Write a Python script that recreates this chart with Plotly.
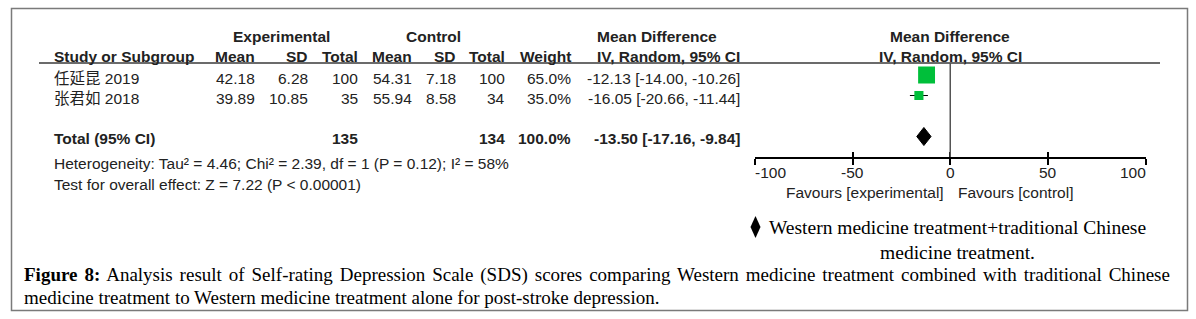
import plotly.graph_objects as go

# ---------------- data ----------------
studies = ["任延昆 2019", "张君如 2018"]
exp_mean = [42.18, 39.89]
exp_sd = [6.28, 10.85]
exp_n = [100, 35]
ctl_mean = [54.31, 55.94]
ctl_sd = [7.18, 8.58]
ctl_n = [100, 34]
weights = [65.0, 35.0]
md = [-12.13, -16.05]
ci_lo = [-14.00, -20.66]
ci_hi = [-10.26, -11.44]

total_exp_n = 135
total_ctl_n = 134
total_weight = 100.0
total_md = -13.50
total_lo = -17.16
total_hi = -9.84

tau2 = 4.46
chi2 = 2.39
df_het = 1
p_het = "0.12"
i2 = 58
z_val = 7.22
p_z = "< 0.00001"

tick_vals = [-100, -50, 0, 50, 100]
tick_labels = ["-100", "-50", "0", "50", "100"]

legend_text = "Western medicine treatment+traditional Chinese<br>medicine treatment."
caption_1 = ("<b>Figure 8:</b> Analysis result of Self-rating Depression Scale (SDS) scores "
             "comparing Western medicine treatment combined with traditional Chinese")
caption_2 = "medicine treatment to Western medicine treatment alone for post-stroke depression."

# ---------------- layout helpers ----------------
W, H = 1196, 319


def px(x):
    return x / W


def py(y):
    return 1 - y / H


ROW0_PX = 75.0      # pixel centre of first study row
ROW_STEP = 20.5     # pixels per row
study_rows = [0, 1]
total_row = 3
PLOT_TOP, PLOT_BOT = 63.0, 157.0
X_LEFT, X_RIGHT = 755.0, 1145.5

SANS = "Liberation Sans, Arial, Noto Sans CJK SC, sans-serif"
SERIF = "Liberation Serif, Times New Roman, serif"
TXT = "#222222"
FS = 15.5

annotations = []


def ann(text, x, y, xanchor="left", bold=False, size=FS, family=SANS, color=TXT,
        xref="paper", yref="paper", align="left", xshift=0):
    annotations.append(dict(
        text=f"<b>{text}</b>" if bold else text,
        x=x, y=y, xref=xref, yref=yref, xanchor=xanchor, yanchor="middle",
        showarrow=False, align=align, xshift=xshift, borderpad=0, borderwidth=0,
        font=dict(family=family, size=size, color=color)))


def row_px(r):
    return ROW0_PX + ROW_STEP * r


# header
ann("Experimental", px(281), py(36), "center", bold=True)
ann("Control", px(433), py(36), "center", bold=True)
ann("Mean Difference", px(657), py(36), "center", bold=True)
ann("Mean Difference", px(950), py(36), "center", bold=True)

col_x = [255, 308, 358, 412, 456, 505, 571, 740]
hdr = ["Mean", "SD", "Total", "Mean", "SD", "Total", "Weight", "IV, Random, 95% CI"]
ann("Study or Subgroup", px(54), py(56), "left", bold=True)
for h, cx in zip(hdr, col_x):
    ann(h, px(cx), py(56), "right", bold=True)
ann("IV, Random, 95% CI", px(950), py(56), "center", bold=True)

# study rows
for i, name in enumerate(studies):
    ty = py(row_px(study_rows[i]) + 3.5)
    ann(name, px(54), ty, "left")
    vals = [f"{exp_mean[i]:.2f}", f"{exp_sd[i]:.2f}", f"{exp_n[i]}",
            f"{ctl_mean[i]:.2f}", f"{ctl_sd[i]:.2f}", f"{ctl_n[i]}",
            f"{weights[i]:.1f}%",
            f"{md[i]:.2f} [{ci_lo[i]:.2f}, {ci_hi[i]:.2f}]"]
    for v, cx in zip(vals, col_x):
        ann(v, px(cx), ty, "right")

# total row
ty = py(row_px(total_row) + 2.5)
ann("Total (95% CI)", px(54), ty, "left", bold=True)
ann(f"{total_exp_n}", px(col_x[2]), ty, "right", bold=True)
ann(f"{total_ctl_n}", px(col_x[5]), ty, "right", bold=True)
ann(f"{total_weight:.1f}%", px(col_x[6]), ty, "right", bold=True)
ann(f"{total_md:.2f} [{total_lo:.2f}, {total_hi:.2f}]", px(col_x[7]), ty, "right", bold=True)

ann(f"Heterogeneity: Tau² = {tau2:.2f}; Chi² = {chi2:.2f}, df = {df_het} (P = {p_het}); I² = {i2}%",
    px(54), py(163), "left")
ann(f"Test for overall effect: Z = {z_val:.2f} (P {p_z})", px(54), py(184), "left")

# tick labels (edge labels aligned inward like RevMan)
for k, (tv, tl) in enumerate(zip(tick_vals, tick_labels)):
    xa = "left" if k == 0 else ("right" if k == len(tick_vals) - 1 else "center")
    ann(tl, tv, py(172), xa, xref="x")

ann("Favours [experimental]", 0, py(192), "right", xref="x", xshift=-6)
ann("Favours [control]", 0, py(192), "left", xref="x", xshift=8)

# legend text and caption
ann(legend_text, px(957), py(240), "center", size=19.5, family=SERIF, color="#000", align="center")
ann(caption_1, px(24), py(275), "left", size=19, family=SERIF, color="#000")
ann(caption_2, px(24), py(297), "left", size=19, family=SERIF, color="#000")

# ---------------- traces ----------------
fig = go.Figure()

# whiskers
wx, wy = [], []
for i in range(len(md)):
    wx += [ci_lo[i], ci_hi[i], None]
    wy += [study_rows[i], study_rows[i], None]
fig.add_trace(go.Scatter(x=wx, y=wy, mode="lines", line=dict(color="black", width=1),
                         hoverinfo="skip", showlegend=False))

# study squares
fig.add_trace(go.Scatter(
    x=md, y=study_rows, mode="markers", opacity=1,
    marker=dict(symbol="square", size=[w * 0.26 for w in weights], color="#00bf3a",
                opacity=1, line=dict(width=0)),
    showlegend=False))

# total diamond
DH = 0.44
fig.add_trace(go.Scatter(
    x=[total_lo, total_md, total_hi, total_md, total_lo],
    y=[total_row, total_row - DH, total_row, total_row + DH, total_row],
    mode="lines", fill="toself", fillcolor="black", line=dict(color="black", width=1),
    showlegend=False))

# invisible trace for overlay axis (upper tick halves)
fig.add_trace(go.Scatter(x=[0], y=[0], xaxis="x2", mode="markers",
                         marker=dict(opacity=0), showlegend=False, hoverinfo="skip"))

# ---------------- shapes ----------------
shapes = [
    dict(type="rect", xref="paper", yref="paper", x0=px(11.5), x1=px(1187.5),
         y0=py(310.5), y1=py(8.5), line=dict(color="#7a7a7a", width=1.5)),
    dict(type="line", xref="paper", yref="paper", x0=px(39), x1=px(1160),
         y0=py(63), y1=py(63), line=dict(color="#3a3a3a", width=1.5)),
    dict(type="line", xref="x", yref="y domain", x0=0, x1=0, y0=0, y1=1,
         line=dict(color="#555555", width=1.5)),
]
# legend diamond symbol
cx, cy, hw, hh = 755.5, 227, 5, 11
path = (f"M {px(cx - hw)},{py(cy)} L {px(cx)},{py(cy - hh)} "
        f"L {px(cx + hw)},{py(cy)} L {px(cx)},{py(cy + hh)} Z")
shapes.append(dict(type="path", xref="paper", yref="paper", path=path,
                   fillcolor="black", line=dict(color="black", width=0)))

yr_top = (PLOT_TOP - ROW0_PX) / ROW_STEP
yr_bot = (PLOT_BOT - ROW0_PX) / ROW_STEP
dom_x = [px(X_LEFT), px(X_RIGHT)]

fig.update_layout(
    width=W, height=H,
    margin=dict(l=0, r=0, t=0, b=0),
    paper_bgcolor="white", plot_bgcolor="white",
    showlegend=False,
    xaxis=dict(domain=dom_x, range=[-100, 100], showgrid=False, zeroline=False,
               showline=True, linecolor="black", linewidth=1.5,
               ticks="outside", ticklen=6, tickwidth=1.5, tickcolor="black",
               tickvals=tick_vals, showticklabels=False, fixedrange=True),
    xaxis2=dict(domain=dom_x, range=[-100, 100], overlaying="x", matches="x", anchor="y",
                side="bottom", showgrid=False, zeroline=False, showline=False,
                ticks="inside", ticklen=5, tickwidth=1.5, tickcolor="black",
                tickvals=tick_vals, showticklabels=False),
    yaxis=dict(domain=[py(PLOT_BOT), py(PLOT_TOP)], range=[yr_bot, yr_top], visible=False,
               fixedrange=True),
    annotations=annotations,
    shapes=shapes,
)

# body margin off; justify first caption line (as in the printed figure) via word spacing
post = (
    "document.body.style.margin='0';document.body.style.overflow='hidden';"
    "document.querySelectorAll('.annotation-text').forEach(function(t){"
    "if(t.textContent.indexOf('Figure 8')===0){t.style.wordSpacing='2.2px';}});"
)

fig.write_html("out.html", config={"displayModeBar": False}, post_script=post)
